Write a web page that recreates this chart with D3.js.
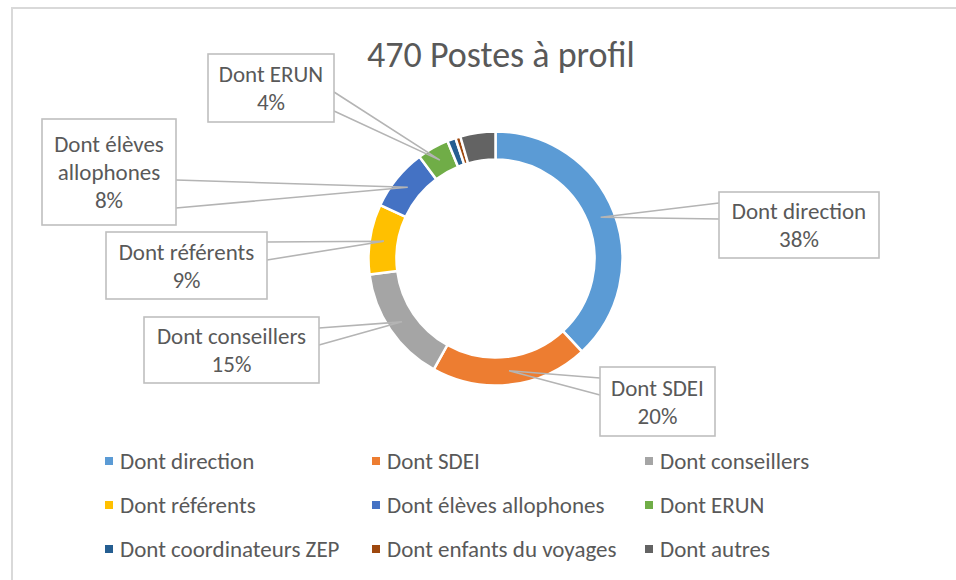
<!DOCTYPE html>
<html><head><meta charset="utf-8">
<script src="https://cdn.jsdelivr.net/npm/d3@7"></script>
<style>
body{margin:0;background:#fff;}
svg{display:block;font-family:Carlito,Calibri,Lato,"Open Sans",sans-serif;}
</style></head>
<body><svg id="chart" width="956" height="580"></svg>
<script>
// ---- data ----
const title = "470 Postes à profil";
const categories = ["Dont direction","Dont SDEI","Dont conseillers","Dont référents","Dont élèves allophones","Dont ERUN","Dont coordinateurs ZEP","Dont enfants du voyages","Dont autres"];
const values = [179, 94, 70, 42, 37, 19, 5, 3, 21];
const colors = ["#5B9BD5","#ED7D31","#A5A5A5","#FFC000","#4472C4","#70AD47","#255E91","#9E480E","#636363"];
const labelLines = [["Dont direction"],["Dont SDEI"],["Dont conseillers"],["Dont référents"],["Dont élèves","allophones"],["Dont ERUN"],null,null,null];

// ---- layout (not data) ----
const cx = 495.5, cy = 258.5, rOuter = 127, rInner = 99;
const boxLayout = [
  {x:719,y:192,w:160,h:66,side:"left",a1:11,a2:27},
  {x:600,y:367,w:115,h:69,side:"left",a1:11,a2:28},
  {x:144,y:317,w:175,h:66,side:"right",a1:11,a2:28},
  {x:106,y:232,w:161,h:67,side:"right",a1:10,a2:28},
  {x:42,y:119,w:134,h:106,side:"right",a1:61,a2:89},
  {x:208,y:54,w:126,h:68,side:"right",a1:38,a2:57},
  null,null,null
];

const svg = d3.select("#chart");
// outer frame
svg.append("rect").attr("x",12).attr("y",8).attr("width",1000).attr("height",700)
  .attr("fill","#fff").attr("stroke","#d9d9d9").attr("stroke-width",2);

svg.append("text").attr("x",501).attr("y",67).attr("text-anchor","middle")
  .attr("font-size",36).attr("fill","#595959").text(title);

const total = d3.sum(values);
const pie = d3.pie().sort(null).value(d=>d)(values);
const arc = d3.arc().innerRadius(rInner).outerRadius(rOuter);
const g = svg.append("g").attr("transform",`translate(${cx},${cy})`);
g.selectAll("path.slice").data(pie).join("path").attr("class","slice")
  .attr("d",arc).attr("fill",(d,i)=>colors[i]).attr("stroke","#fff").attr("stroke-width",2.5);

// callouts
const fmt = v => Math.round(v/total*100) + "%";
pie.forEach((d,i)=>{
  const L = boxLayout[i]; if(!L) return;
  const c = arc.centroid(d); const px = cx + c[0], py = cy + c[1];
  const ex = L.side==="left" ? L.x : L.x + L.w;
  svg.append("path").attr("d",`M${ex},${L.y+L.a1}L${px},${py}L${ex},${L.y+L.a2}`)
    .attr("fill","none").attr("stroke","#b4b4b4").attr("stroke-width",1.6);
  svg.append("rect").attr("x",L.x).attr("y",L.y).attr("width",L.w).attr("height",L.h)
    .attr("fill","#fff").attr("stroke","#bfbfbf").attr("stroke-width",1.6);
  const lines = labelLines[i].concat([fmt(values[i])]);
  const lh = 28, n = lines.length;
  const midY = L.y + L.h/2;
  lines.forEach((t,k)=>{
    svg.append("text").attr("x",L.x+L.w/2).attr("y",midY + (k-(n-1)/2)*lh + 8)
      .attr("text-anchor","middle").attr("font-size",23).attr("fill","#595959").text(t);
  });
});

// legend
const colX = [109, 376, 649], rowY = [461, 505, 549];
categories.forEach((c,i)=>{
  const x = colX[i%3], y = rowY[Math.floor(i/3)];
  svg.append("rect").attr("x",x-4).attr("y",y-4).attr("width",8).attr("height",8).attr("fill",colors[i]);
  svg.append("text").attr("x",x+11).attr("y",y+8).attr("font-size",23).attr("fill","#595959").text(c);
});
</script></body></html>
